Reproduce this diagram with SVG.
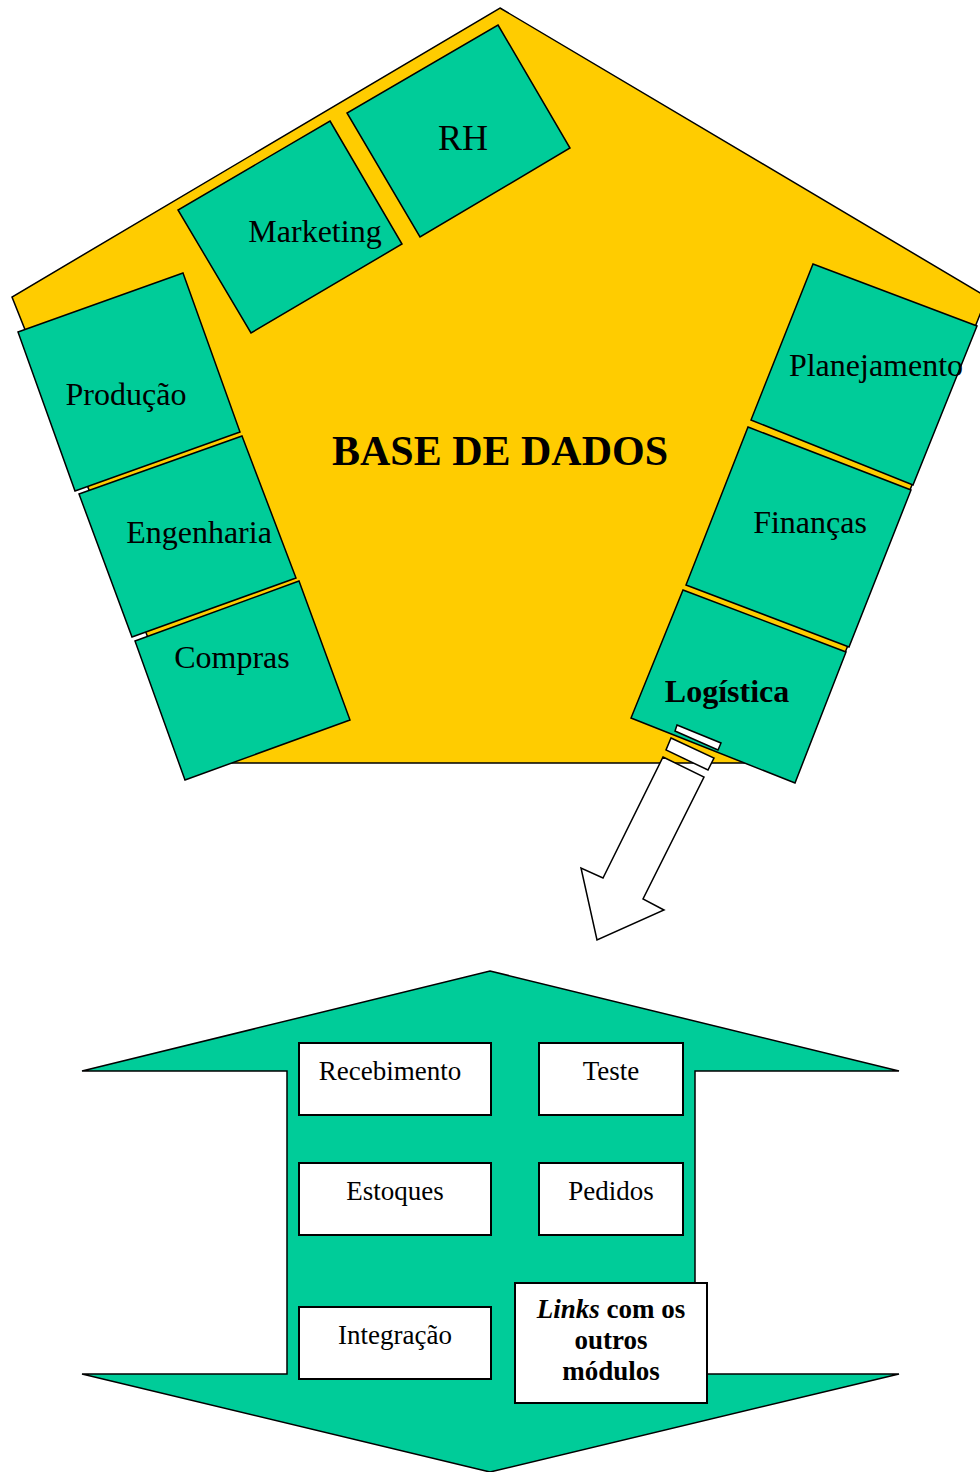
<svg xmlns="http://www.w3.org/2000/svg" width="980" height="1472" viewBox="0 0 980 1472">
<style>
.base{fill:#FFCC00;stroke:#000;stroke-width:1.5}
.mod{fill:#00CC99;stroke:#000;stroke-width:1.5;stroke-linejoin:miter}
.wbox{fill:#fff;stroke:#000;stroke-width:2}
.arr{fill:#fff;stroke:#000;stroke-width:1.5}
.t{font-family:"Liberation Serif","Times New Roman",serif;fill:#000;text-anchor:middle}
.lab{font-size:32px}
.big{font-size:42px;font-weight:bold}
.sm{font-size:27px}
.smb{font-size:27px;font-weight:bold}
</style>
<rect width="980" height="1472" fill="#fff"/>
<g id="base-de-dados">
<polygon class="base" points="500,8 987,297 801,763 198,763 12,297"/>
<text class="t big" x="500" y="465">BASE DE DADOS</text>
</g>
<g id="rh">
<polygon class="mod" points="498,25 570,148 420,237 347,113"/>
<text class="t" style="font-size:36px" x="463" y="150">RH</text>
</g>
<g id="marketing">
<polygon class="mod" points="330,121 402,244 251,333 178,210"/>
<text class="t lab" x="315" y="242">Marketing</text>
</g>
<g id="producao">
<polygon class="mod" points="183,273 240,432 75,491 18,332"/>
<text class="t lab" x="126" y="405">Produção</text>
</g>
<g id="engenharia">
<polygon class="mod" points="242,436 296,578 132,637 79,494"/>
<text class="t lab" x="199" y="543">Engenharia</text>
</g>
<g id="compras">
<polygon class="mod" points="299,581 350,720 185,780 135,641"/>
<text class="t lab" x="232" y="668">Compras</text>
</g>
<g id="planejamento">
<polygon class="mod" points="813,264 977,326 913,485 751,420"/>
<text class="t lab" x="876" y="376">Planejamento</text>
</g>
<g id="financas">
<polygon class="mod" points="748,427 911,490 849,647 686,585"/>
<text class="t lab" x="810" y="533">Finanças</text>
</g>
<g id="logistica">
<polygon class="mod" points="683,590 846,652 795,783 631,718"/>
<text class="t lab" style="font-weight:bold" x="727" y="702">Logística</text>
</g>
<g id="connectors">
<polygon class="arr" points="677,725 721,743 718,750 675,731"/>
<polygon class="arr" points="671,738 714,758 708,770 666,750"/>
<polygon class="arr" points="663,757 704,777 643,899 664,910 597,940 581,868 603,878"/>
</g>
<g id="logistica-detalhe">
<polygon class="mod" points="490,971 899,1071 695,1071 695,1374 899,1374 490,1472 82,1374 287,1374 287,1071 82,1071"/>
</g>
<g id="recebimento">
<rect class="wbox" x="299" y="1043" width="192" height="72"/>
<text class="t sm" x="390" y="1080">Recebimento</text>
</g>
<g id="teste">
<rect class="wbox" x="539" y="1043" width="144" height="72"/>
<text class="t sm" x="611" y="1080">Teste</text>
</g>
<g id="estoques">
<rect class="wbox" x="299" y="1163" width="192" height="72"/>
<text class="t sm" x="395" y="1200">Estoques</text>
</g>
<g id="pedidos">
<rect class="wbox" x="539" y="1163" width="144" height="72"/>
<text class="t sm" x="611" y="1200">Pedidos</text>
</g>
<g id="integracao">
<rect class="wbox" x="299" y="1307" width="192" height="72"/>
<text class="t sm" x="395" y="1344">Integração</text>
</g>
<g id="links">
<rect class="wbox" x="515" y="1283" width="192" height="120"/>
<text class="t smb" x="611" y="1318"><tspan font-style="italic">Links</tspan> com os</text>
<text class="t smb" x="611" y="1349">outros</text>
<text class="t smb" x="611" y="1380">módulos</text>
</g>
</svg>
